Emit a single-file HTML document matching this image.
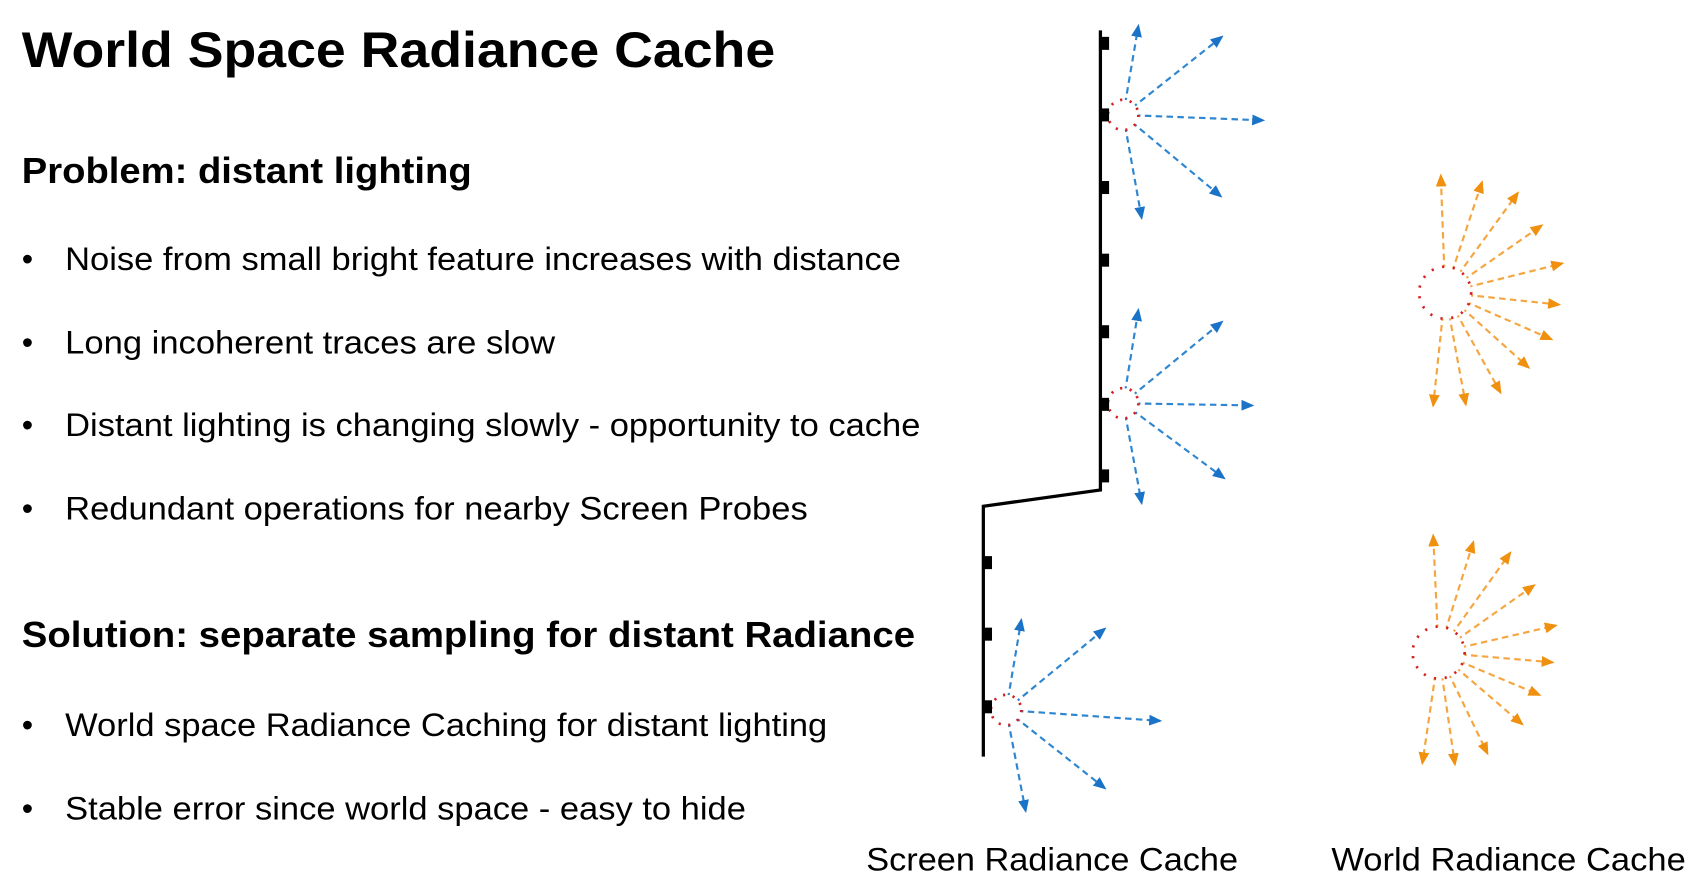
<!DOCTYPE html>
<html><head><meta charset="utf-8"><style>
html,body{margin:0;padding:0;background:#fff;}
svg{display:block;}
text{font-family:"Liberation Sans",Arial,sans-serif;fill:#000;}
</style></head><body>
<svg width="1700" height="890" viewBox="0 0 1568 821" xmlns="http://www.w3.org/2000/svg">
<defs>
<marker id="ab" viewBox="0 0 12 10" refX="10" refY="5" markerWidth="12" markerHeight="10" orient="auto" markerUnits="userSpaceOnUse">
<path d="M0,0 L12,5 L0,10 z" fill="#1a73c6"/></marker>
<marker id="ao" viewBox="0 0 12 10" refX="10" refY="5" markerWidth="12" markerHeight="10" orient="auto" markerUnits="userSpaceOnUse">
<path d="M0,0 L12,5 L0,10 z" fill="#f0900f"/></marker>
</defs>
<text x="20" y="62" font-size="46" font-weight="bold" textLength="695" lengthAdjust="spacingAndGlyphs">World Space Radiance Cache</text>
<text x="20" y="169" font-size="33" font-weight="bold" textLength="415" lengthAdjust="spacingAndGlyphs">Problem: distant lighting</text>
<g font-size="30">
<text x="20" y="249">•</text><text x="60" y="249" textLength="771" lengthAdjust="spacingAndGlyphs">Noise from small bright feature increases with distance</text>
<text x="20" y="326">•</text><text x="60" y="326" textLength="452" lengthAdjust="spacingAndGlyphs">Long incoherent traces are slow</text>
<text x="20" y="402">•</text><text x="60" y="402" textLength="789" lengthAdjust="spacingAndGlyphs">Distant lighting is changing slowly - opportunity to cache</text>
<text x="20" y="479">•</text><text x="60" y="479" textLength="685" lengthAdjust="spacingAndGlyphs">Redundant operations for nearby Screen Probes</text>
</g>
<text x="20" y="597" font-size="33" font-weight="bold" textLength="824" lengthAdjust="spacingAndGlyphs">Solution: separate sampling for distant Radiance</text>
<g font-size="30">
<text x="20" y="679">•</text><text x="60" y="679" textLength="703" lengthAdjust="spacingAndGlyphs">World space Radiance Caching for distant lighting</text>
<text x="20" y="756">•</text><text x="60" y="756" textLength="628" lengthAdjust="spacingAndGlyphs">Stable error since world space - easy to hide</text>
</g>
<text x="799" y="803" font-size="30" textLength="343" lengthAdjust="spacingAndGlyphs">Screen Radiance Cache</text>
<text x="1228" y="803" font-size="30" textLength="327" lengthAdjust="spacingAndGlyphs">World Radiance Cache</text>

<!-- screen probes -->
<g stroke="#2f86d0" stroke-width="2" stroke-dasharray="6 4" fill="none" marker-end="url(#ab)">
<line x1="1036" y1="106" x2="1050" y2="24"/><line x1="1036" y1="106" x2="1127" y2="34"/><line x1="1036" y1="106" x2="1165" y2="111"/><line x1="1036" y1="106" x2="1126" y2="181"/><line x1="1036" y1="106" x2="1053" y2="201"/>
<line x1="1036" y1="372" x2="1050" y2="286"/><line x1="1036" y1="372" x2="1127" y2="297"/><line x1="1036" y1="372" x2="1155" y2="374"/><line x1="1036" y1="372" x2="1129" y2="441"/><line x1="1036" y1="372" x2="1053" y2="464"/>
<line x1="928" y1="655" x2="942" y2="572"/><line x1="928" y1="655" x2="1019" y2="580"/><line x1="928" y1="655" x2="1070" y2="665"/><line x1="928" y1="655" x2="1019" y2="727"/><line x1="928" y1="655" x2="946" y2="748"/>
</g>
<g fill="#fff" stroke="#d42020" stroke-width="2.5" stroke-dasharray="2 7">
<circle cx="1036" cy="106" r="14"/><circle cx="1036" cy="372" r="14"/><circle cx="928" cy="655" r="14"/>
</g>
<!-- wall -->
<polyline points="1015,28 1015,452 907,467 907,698" fill="none" stroke="#000" stroke-width="3"/>
<g fill="#000">
<rect x="1015" y="34" width="8" height="12"/><rect x="1015" y="100" width="8" height="12"/><rect x="1015" y="167" width="8" height="12"/><rect x="1015" y="234" width="8" height="12"/><rect x="1015" y="300" width="8" height="12"/><rect x="1015" y="367" width="8" height="12"/><rect x="1015" y="433" width="8" height="12"/>
<rect x="907" y="513" width="8" height="12"/><rect x="907" y="579" width="8" height="12"/><rect x="907" y="646" width="8" height="12"/>
</g>

<!-- world probes -->
<g stroke="#f5a640" stroke-width="2" stroke-dasharray="6 4" fill="none" marker-end="url(#ao)">
<line x1="1333" y1="270" x2="1329" y2="162"/><line x1="1333" y1="270" x2="1367" y2="168"/><line x1="1333" y1="270" x2="1400" y2="178"/><line x1="1333" y1="270" x2="1422" y2="208"/><line x1="1333" y1="270" x2="1441" y2="243"/><line x1="1333" y1="270" x2="1438" y2="281"/><line x1="1333" y1="270" x2="1431" y2="313"/><line x1="1333" y1="270" x2="1410" y2="339"/><line x1="1333" y1="270" x2="1384" y2="362"/><line x1="1333" y1="270" x2="1352" y2="373"/><line x1="1333" y1="270" x2="1322" y2="374"/>
<line x1="1327" y1="602" x2="1322" y2="494"/><line x1="1327" y1="602" x2="1359" y2="500"/><line x1="1327" y1="602" x2="1393" y2="510"/><line x1="1327" y1="602" x2="1415" y2="540"/><line x1="1327" y1="602" x2="1435" y2="577"/><line x1="1327" y1="602" x2="1432" y2="611"/><line x1="1327" y1="602" x2="1420" y2="641"/><line x1="1327" y1="602" x2="1404" y2="668"/><line x1="1327" y1="602" x2="1372" y2="695"/><line x1="1327" y1="602" x2="1342" y2="705"/><line x1="1327" y1="602" x2="1312" y2="704"/>
</g>
<g fill="#fff" stroke="#d42020" stroke-width="2.5" stroke-dasharray="2 8">
<circle cx="1333" cy="270" r="24"/><circle cx="1327" cy="602" r="24"/>
</g>
</svg>
</body></html>
